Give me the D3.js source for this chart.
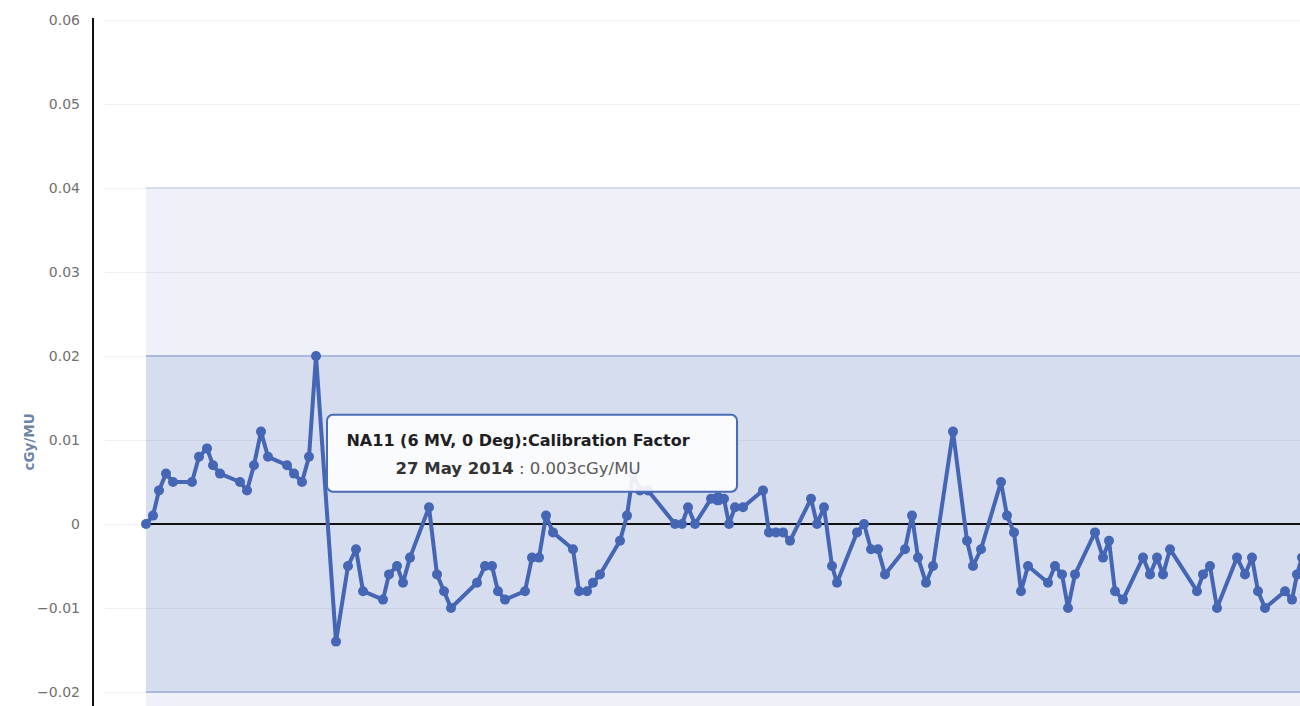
<!DOCTYPE html>
<html>
<head>
<meta charset="utf-8">
<script src="https://cdn.jsdelivr.net/npm/d3@7/dist/d3.min.js"></script>
<style>
  html, body { margin: 0; padding: 0; background: #ffffff; }
  svg { display: block; }
</style>
</head>
<body>
<svg id="chart" width="1300" height="706"></svg>
<script>
// ---- data ----
// days since first measurement of each session
const dayOffsets = [
  0, 7, 13, 20, 27, 46, 53, 61, 67, 74, 94, 101, 108, 115, 122, 141, 148, 156, 163, 170,
  190, 202, 210, 217, 237, 243, 251, 257, 264, 283, 291, 298, 305, 331, 339, 346, 352, 359, 379, 386,
  393, 400, 407, 427, 433, 441, 447, 454, 474, 481, 487, 494, 502, 529, 536, 542, 549, 565, 572, 578,
  583, 589, 597, 617, 623, 630, 637, 644, 665, 671, 678, 686, 691, 711, 718, 725, 732, 739, 759, 766,
  772, 780, 787, 807, 821, 827, 835, 855, 861, 868, 875, 882, 902, 909, 916, 922, 929, 949, 957, 963,
  969, 977, 997, 1004, 1011, 1017, 1024, 1051, 1057, 1064, 1071, 1091, 1099, 1106, 1112, 1119, 1139, 1146, 1151, 1156
];
// calibration factor deviation (cGy/MU)
const values = [
  0, 0.001, 0.004, 0.006, 0.005, 0.005, 0.008, 0.009, 0.007, 0.006, 0.005, 0.004, 0.007, 0.011, 0.008, 0.007, 0.006, 0.005, 0.008, 0.020,
  -0.014, -0.005, -0.003, -0.008, -0.009, -0.006, -0.005, -0.007, -0.004, 0.002, -0.006, -0.008, -0.010, -0.007, -0.005, -0.005, -0.008, -0.009, -0.008, -0.004,
  -0.004, 0.001, -0.001, -0.003, -0.008, -0.008, -0.007, -0.006, -0.002, 0.001, 0.006, 0.004, 0.004, 0, 0, 0.002, 0, 0.003, 0.003, 0.003,
  0, 0.002, 0.002, 0.004, -0.001, -0.001, -0.001, -0.002, 0.003, 0, 0.002, -0.005, -0.007, -0.001, 0, -0.003, -0.003, -0.006, -0.003, 0.001,
  -0.004, -0.007, -0.005, 0.011, -0.002, -0.005, -0.003, 0.005, 0.001, -0.001, -0.008, -0.005, -0.007, -0.005, -0.006, -0.010, -0.006, -0.001, -0.004, -0.002,
  -0.008, -0.009, -0.004, -0.006, -0.004, -0.006, -0.003, -0.008, -0.006, -0.005, -0.010, -0.004, -0.006, -0.004, -0.008, -0.010, -0.008, -0.009, -0.006, -0.004
];
const yTicks = [-0.02, -0.01, 0, 0.01, 0.02, 0.03, 0.04, 0.05, 0.06];
const yTickLabels = ["\u22120.02", "\u22120.01", "0", "0.01", "0.02", "0.03", "0.04", "0.05", "0.06"];
const yAxisTitle = "cGy/MU";
const warningBand = [-0.04, 0.04];   // outer tolerance band
const actionBand = [-0.02, 0.02];    // inner tolerance band
const baseline = 0;
const hoverIndex = 58;
const tooltipTitle = "NA11 (6 MV, 0 Deg):Calibration Factor";
const tooltipDate = "27 May 2014";
const tooltipUnit = "cGy/MU";

// ---- layout ----
const svg = d3.select("#chart");
const W = 1300, H = 706;
const axisX = 93;
const gridLeft = 105;
const plotLeft = 146, plotRight = 1300;
const yTop = 20, yBottom = 692;

const x = d3.scaleLinear().domain([0, 1154]).range([plotLeft, plotRight]);
const y = d3.scaleLinear().domain([-0.02, 0.06]).range([yBottom, yTop]);

const blue = "#4566b4";

svg.append("rect").attr("width", W).attr("height", H).attr("fill", "#ffffff");

svg.append("clipPath").attr("id", "plotclip")
  .append("rect").attr("x", 0).attr("y", 0).attr("width", W).attr("height", H);

// bands
svg.append("rect")
  .attr("x", plotLeft).attr("width", plotRight - plotLeft)
  .attr("y", y(warningBand[1])).attr("height", y(warningBand[0]) - y(warningBand[1]))
  .attr("fill", "#eff1f9");
svg.append("rect")
  .attr("x", plotLeft).attr("width", plotRight - plotLeft)
  .attr("y", y(actionBand[1])).attr("height", y(actionBand[0]) - y(actionBand[1]))
  .attr("fill", "#d6ddef");

// gridlines
svg.append("g").selectAll("line").data(yTicks).join("line")
  .attr("x1", gridLeft).attr("x2", plotRight)
  .attr("y1", d => Math.round(y(d)) + 0.5).attr("y2", d => Math.round(y(d)) + 0.5)
  .attr("stroke", "rgba(120,120,140,0.12)").attr("stroke-width", 1);

// band edges
[warningBand[1], warningBand[0]].forEach(v => {
  svg.append("line").attr("x1", plotLeft).attr("x2", plotRight)
    .attr("y1", y(v)).attr("y2", y(v))
    .attr("stroke", "#cdd4ec").attr("stroke-width", 1.5);
});
[actionBand[1], actionBand[0]].forEach(v => {
  svg.append("line").attr("x1", plotLeft).attr("x2", plotRight)
    .attr("y1", y(v)).attr("y2", y(v))
    .attr("stroke", "#aab8df").attr("stroke-width", 2);
});

// baseline
svg.append("line").attr("x1", plotLeft).attr("x2", plotRight)
  .attr("y1", y(baseline)).attr("y2", y(baseline))
  .attr("stroke", "#111").attr("stroke-width", 2);

// y axis
const yAxis = d3.axisLeft(y).tickValues(yTicks)
  .tickFormat((d, i) => yTickLabels[i]).tickSize(0).tickPadding(13);
const gAxis = svg.append("g").attr("transform", `translate(${axisX},0)`).call(yAxis);
gAxis.select(".domain").remove();
gAxis.selectAll("text")
  .attr("fill", "#707070").attr("font-family", "'DejaVu Sans', Verdana, sans-serif")
  .attr("font-size", "14px");
svg.append("line").attr("x1", axisX).attr("x2", axisX).attr("y1", 18).attr("y2", H)
  .attr("stroke", "#111").attr("stroke-width", 2);

svg.append("text")
  .attr("transform", `translate(34,${(y(0.01) + y(0)) / 2 - 40}) rotate(-90)`)
  .attr("text-anchor", "middle")
  .attr("font-family", "'DejaVu Sans', Verdana, sans-serif")
  .attr("font-weight", "bold").attr("font-size", "13.5px")
  .attr("fill", "#6c84a8").text(yAxisTitle);

// series
const pts = dayOffsets.map((d, i) => [d, values[i]]);
const g = svg.append("g").attr("clip-path", "url(#plotclip)");
g.append("path").datum(pts)
  .attr("d", d3.line().x(d => x(d[0])).y(d => y(d[1])))
  .attr("fill", "none").attr("stroke", blue).attr("stroke-width", 4)
  .attr("stroke-linejoin", "round");
g.selectAll("circle").data(pts).join("circle")
  .attr("cx", d => x(d[0])).attr("cy", d => y(d[1]))
  .attr("r", (d, i) => i === hoverIndex ? 6.5 : 5)
  .attr("fill", blue);

// tooltip
const hx = x(dayOffsets[hoverIndex]), hy = y(values[hoverIndex]);
const tw = 410, th = 77;
const tx = hx + 19 - tw, ty = hy - 7 - th;
const tip = svg.append("g");
tip.append("rect")
  .attr("x", tx + 1.5).attr("y", ty + 1.5).attr("width", tw).attr("height", th).attr("rx", 6)
  .attr("fill", "rgba(0,0,0,0.06)");
tip.append("rect")
  .attr("x", tx).attr("y", ty).attr("width", tw).attr("height", th).attr("rx", 6)
  .attr("fill", "rgba(255,255,255,0.9)").attr("stroke", "#4a6cb8").attr("stroke-width", 2);
const cx = tx + 191;
tip.append("text").attr("x", cx).attr("y", ty + 31).attr("text-anchor", "middle")
  .attr("font-family", "'DejaVu Sans', Verdana, sans-serif").attr("font-weight", "bold")
  .attr("font-size", "16px").attr("fill", "#1e1e24").text(tooltipTitle);
const t2 = tip.append("text").attr("x", cx).attr("y", ty + 59).attr("text-anchor", "middle")
  .attr("font-family", "'DejaVu Sans', Verdana, sans-serif").attr("font-size", "16.5px");
t2.append("tspan").attr("font-weight", "bold").attr("fill", "#333").text(tooltipDate);
t2.append("tspan").attr("fill", "#5a5a5a").text(" : " + d3.format(".3f")(values[hoverIndex]) + tooltipUnit);
</script>
</body>
</html>
